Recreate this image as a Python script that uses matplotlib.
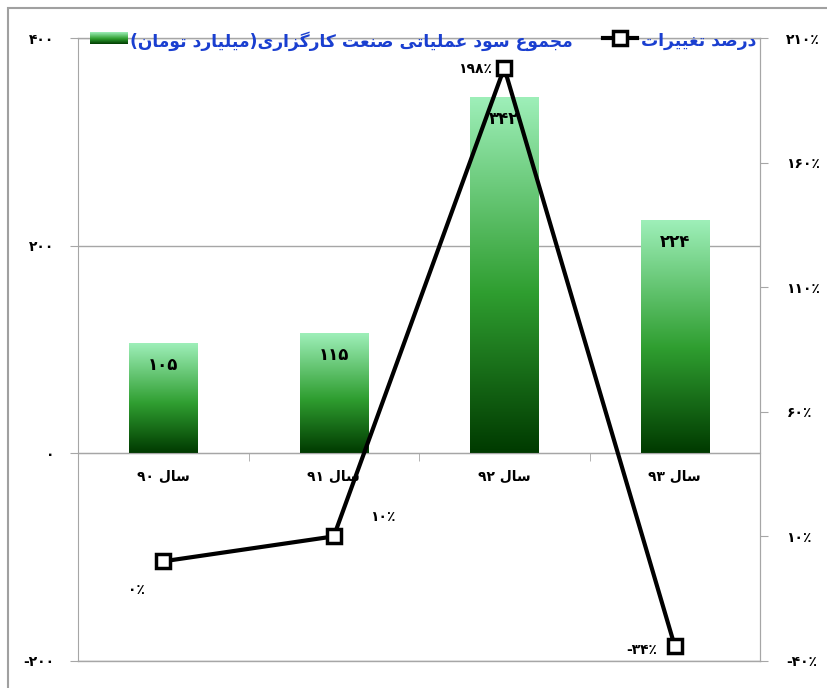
import re
import numpy as np
import matplotlib
matplotlib.use("Agg")
import matplotlib.pyplot as plt
from matplotlib.colors import LinearSegmentedColormap
from matplotlib.patches import Rectangle
from matplotlib.lines import Line2D
from matplotlib import font_manager
from matplotlib.ft2font import FT2Font

# ---------------- data ----------------
categories = ["سال ۹۰", "سال ۹۱", "سال ۹۲", "سال ۹۳"]
profit = [105, 115, 342, 224]          # billion toman
change_pct = [0, 10, 198, -34]         # percent
bar_legend = "مجموع سود عملیاتی صنعت کارگزاری(میلیارد تومان)"
line_legend = "درصد تغییرات"
left_ticks = [-200, 0, 200, 400]
right_ticks = [-40, 10, 60, 110, 160, 210]

# ---------------- Persian shaping helpers ----------------
plt.rcParams['font.family'] = ['DejaVu Sans']
fpath = font_manager.findfont(font_manager.FontProperties(family='DejaVu Sans', weight='bold'))
cmap_chars = set(FT2Font(fpath).get_charmap().keys())

def ok(ch):
    return ch is None or ord(ch) in cmap_chars

FORMS = {
    'ا': ('\uFE8D', '\uFE8E', None, None),
    'ت': ('\uFE95', '\uFE96', '\uFE97', '\uFE98'),
    'ج': ('\uFE9D', '\uFE9E', '\uFE9F', '\uFEA0'),
    'د': ('\uFEA9', '\uFEAA', None, None),
    'ر': ('\uFEAD', '\uFEAE', None, None),
    'ز': ('\uFEAF', '\uFEB0', None, None),
    'س': ('\uFEB1', '\uFEB2', '\uFEB3', '\uFEB4'),
    'ص': ('\uFEB9', '\uFEBA', '\uFEBB', '\uFEBC'),
    'ع': ('\uFEC9', '\uFECA', '\uFECB', '\uFECC'),
    'غ': ('\uFECD', '\uFECE', '\uFECF', '\uFED0'),
    'ل': ('\uFEDD', '\uFEDE', '\uFEDF', '\uFEE0'),
    'م': ('\uFEE1', '\uFEE2', '\uFEE3', '\uFEE4'),
    'ن': ('\uFEE5', '\uFEE6', '\uFEE7', '\uFEE8'),
    'و': ('\uFEED', '\uFEEE', None, None),
    'ی': ('\uFBFC', '\uFBFD', '\uFBFE', '\uFBFF'),
    'ک': ('\uFB8E', '\uFB8F', '\uFB90', '\uFB91'),
    'گ': ('\uFB92', '\uFB93', '\uFB94', '\uFB95'),
}
FALLBACK = {
    'ی': ('\uFEEF', '\uFEF0', '\uFEF3', '\uFEF4'),
    'ک': ('\uFED9', '\uFEDA', '\uFEDB', '\uFEDC'),
    'گ': ('\uFED9', '\uFEDA', '\uFEDB', '\uFEDC'),
}
for k, v in list(FORMS.items()):
    if not all(ok(c) for c in v) and k in FALLBACK:
        FORMS[k] = FALLBACK[k]
RIGHT_JOIN = set('ادذرزژو')

def shape(s):
    out = []
    for i, c in enumerate(s):
        if c not in FORMS:
            out.append(c)
            continue
        prev = s[i - 1] if i > 0 else None
        nxt = s[i + 1] if i + 1 < len(s) else None
        jp = prev in FORMS and prev not in RIGHT_JOIN
        jn = nxt in FORMS and c not in RIGHT_JOIN
        iso, fin, ini, med = FORMS[c]
        if jp and jn:
            out.append(med)
        elif jp:
            out.append(fin)
        elif jn:
            out.append(ini)
        else:
            out.append(iso)
    return ''.join(out)

SWAP = {'(': ')', ')': '('}
NUMRUN = r'[0-9\u06F0-\u06F9\u066A%]+'

def rtl(s):
    sh = shape(s)
    toks = re.findall(NUMRUN + r'|[^0-9\u06F0-\u06F9\u066A%]+', sh)
    vis = []
    for t in reversed(toks):
        if re.fullmatch(NUMRUN, t):
            vis.append(t)
        else:
            vis.append(''.join(SWAP.get(ch, ch) for ch in reversed(t)))
    return ''.join(vis)

PDIG = '۰۱۲۳۴۵۶۷۸۹'
PCT = '\u066A' if ok('\u066A') else '%'

def fa(n):
    s = ''.join(PDIG[int(d)] for d in str(abs(int(n))))
    return ('-' if n < 0 else '') + s

# ---------------- figure ----------------
W, H = 827, 688
fig = plt.figure(figsize=(W / 100, H / 100), dpi=100)
fig.patch.set_facecolor('white')
L, R, T, B = 78, 760, 38, 661
ax = fig.add_axes([L / W, 1 - B / H, (R - L) / W, (B - T) / H])
ax2 = ax.twinx()

grid_c = '#a6a6a6'
x = np.arange(len(categories))

grad_cmap = LinearSegmentedColormap.from_list(
    'g', [(0.0, '#003a00'), (0.45, '#2f9e30'), (1.0, '#9eefb9')])
grad = np.linspace(0, 1, 256).reshape(-1, 1)

bars = ax.bar(x, profit, width=0.4, facecolor='none', edgecolor='none', zorder=2)
for b, v in zip(bars, profit):
    x0, w, h = b.get_x(), b.get_width(), b.get_height()
    ax.imshow(grad, cmap=grad_cmap, origin='lower', aspect='auto',
              extent=[x0, x0 + w, 0, h], zorder=2, interpolation='bicubic')
    ax.annotate(fa(v), (b.get_x() + w / 2, h), xytext=(0, -15),
                textcoords='offset points', ha='center', va='center',
                fontsize=12, fontweight='bold', color='black', zorder=3)

ax.set_xlim(-0.5, len(categories) - 0.5)
ax.set_ylim(-200, 400)
ax.set_yticks(left_ticks)
ax.set_yticklabels([fa(v) for v in left_ticks], fontsize=10, fontweight='bold')
ax.yaxis.grid(True, color=grid_c, lw=1)
for yv in (left_ticks[0], left_ticks[-1]):
    ax.axhline(yv, color=grid_c, lw=1, clip_on=False, zorder=1)
ax.set_axisbelow(True)
ax.tick_params(axis='y', direction='out', length=6, color=grid_c, pad=11)

ax.spines['bottom'].set_position(('data', 0))
ax.spines['bottom'].set_color(grid_c)
ax.spines['top'].set_visible(False)
ax.spines['left'].set_color(grid_c)
ax.spines['right'].set_color(grid_c)
ax.set_xticks(x)
ax.set_xticklabels([rtl(c) for c in categories], fontsize=10, fontweight='bold')
ax.set_xticks(np.arange(-0.5, len(categories), 1.0), minor=True)
ax.tick_params(axis='x', which='major', length=0, pad=12)
ax.tick_params(axis='x', which='minor', length=6, direction='out', color=grid_c)

# line series
ax2.plot(x, change_pct, color='black', lw=3, marker='s', ms=9.5,
         mfc='white', mec='black', mew=2.5, zorder=5, clip_on=False)
ax2.set_ylim(-40, 210)
ax2.set_yticks(right_ticks)
ax2.set_yticklabels([fa(v) + PCT for v in right_ticks], fontsize=10, fontweight='bold')
ax2.tick_params(axis='y', direction='out', length=6, color=grid_c, pad=13)
for s in ['top', 'bottom', 'left']:
    ax2.spines[s].set_visible(False)
ax2.spines['right'].set_color(grid_c)

offsets = [(-19, -21), (35, 14), (-21, -1), (-24, -3)]
for xi, v, off in zip(x, change_pct, offsets):
    ax2.annotate(fa(v) + PCT, (xi, v), xytext=off, textcoords='offset points',
                 ha='center', va='center', fontsize=10, fontweight='bold',
                 color='black')

# legend (manual)
blue = '#1a3fd0'
lax = fig.add_axes([90 / W, 1 - 44 / H, 37 / W, 12 / H])
lax.imshow(grad, cmap=grad_cmap, origin='lower', aspect='auto', extent=[0, 1, 0, 1])
lax.set_axis_off()
fig.text(130 / W, 1 - 41 / H, rtl(bar_legend), ha='left', va='center',
         color=blue, fontsize=12.3, fontweight='bold')
fig.add_artist(Line2D([603 / W, 637 / W], [1 - 38 / H] * 2, transform=fig.transFigure,
                      color='black', lw=3))
fig.add_artist(Line2D([620 / W], [1 - 38 / H], transform=fig.transFigure,
                      marker='s', ms=9.5, mfc='white', mec='black', mew=2.5))
fig.text(641 / W, 1 - 41 / H, rtl(line_legend), ha='left', va='center',
         color=blue, fontsize=12.3, fontweight='bold')

# outer frame
fig.add_artist(Rectangle((8 / W, -0.1), 1.2, 1.1 - 8 / H, transform=fig.transFigure,
                         fill=False, edgecolor='#a0a0a0', lw=1.5))

fig.savefig('out.png', dpi=100, facecolor='white')
